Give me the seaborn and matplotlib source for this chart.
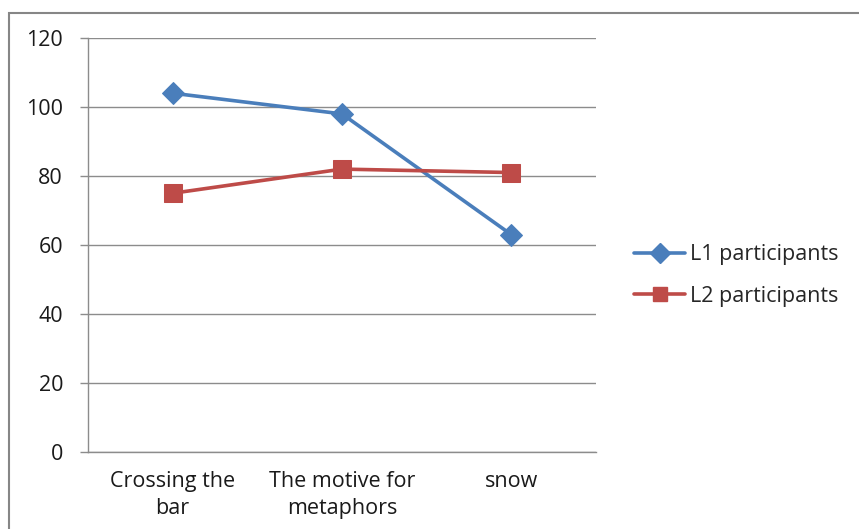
import matplotlib
matplotlib.use("Agg")
import matplotlib.pyplot as plt
from matplotlib.patches import Rectangle
from matplotlib.lines import Line2D
import seaborn as sns
import pandas as pd

categories = ["Crossing the\nbar", "The motive for\nmetaphors", "snow"]
l1_values = [104, 98, 63]
l2_values = [75, 82, 81]
series_names = ["L1 participants", "L2 participants"]
y_ticks = [0, 20, 40, 60, 80, 100, 120]

df = pd.DataFrame({
    "category": categories * 2,
    "pos": list(range(len(categories))) * 2,
    "value": l1_values + l2_values,
    "series": [series_names[0]] * 3 + [series_names[1]] * 3,
})

sns.set_style("white")
plt.rcParams["font.family"] = ["Open Sans", "DejaVu Sans"]

FS = 15.5
colors = {"L1 participants": "#4A7EBB", "L2 participants": "#BE4B48"}
markers = {"L1 participants": "D", "L2 participants": "s"}
msizes = {"L1 participants": 11.5, "L2 participants": 12.5}

fig = plt.figure(figsize=(8.59, 5.29), dpi=100)
ax = fig.add_axes([88 / 859, 1 - 452 / 529, (596 - 88) / 859, (452 - 38) / 529])

for name in series_names:
    sub = df[df["series"] == name]
    sns.lineplot(data=sub, x="pos", y="value", ax=ax, color=colors[name],
                 linewidth=2.6, marker=markers[name], markersize=msizes[name],
                 markeredgecolor=colors[name], label=name, legend=False)

ax.set_xlim(-0.5, len(categories) - 0.5)
ax.set_ylim(0, 120)
ax.set_yticks(y_ticks)
ax.set_yticklabels([str(v) for v in y_ticks], fontsize=FS, color="#1a1a1a")
ax.yaxis.grid(True, color="#8c8c8c", linewidth=1.0)
ax.set_axisbelow(True)

# category labels centered, tick marks on category boundaries
ax.set_xticks(range(len(categories)))
ax.set_xticklabels(categories, fontsize=FS, color="#1a1a1a", linespacing=1.35)
ax.set_xticks([-0.5, 0.5, 1.5, 2.5], minor=True)
ax.tick_params(axis="x", which="major", length=0, pad=14)
ax.tick_params(axis="x", which="minor", length=6, color="#8c8c8c", width=1)
ax.tick_params(axis="y", length=6, color="#8c8c8c", width=1, pad=12, left=True)

ax.set_xlabel("")
ax.set_ylabel("")
for side in ["top", "right"]:
    ax.spines[side].set_visible(False)
for side in ["left", "bottom"]:
    ax.spines[side].set_color("#8c8c8c")
    ax.spines[side].set_linewidth(1.0)

handles = [Line2D([], [], color=colors[n], linewidth=2.6, marker=markers[n],
                  markersize=msizes[n] * 0.85, markeredgecolor=colors[n]) for n in series_names]
fig.legend(handles, series_names, loc="center left",
           bbox_to_anchor=(615 / 859, 1 - 275.5 / 529), frameon=False,
           fontsize=FS, handlelength=2.37, handletextpad=0.23, labelspacing=0.93)

# chart border
fig.patches.append(Rectangle((9 / 859, -0.01), 1.0, 1 - 13 / 529 + 0.01,
                             transform=fig.transFigure, fill=False,
                             edgecolor="#868686", linewidth=1.5))

fig.savefig("out.png", dpi=100)
